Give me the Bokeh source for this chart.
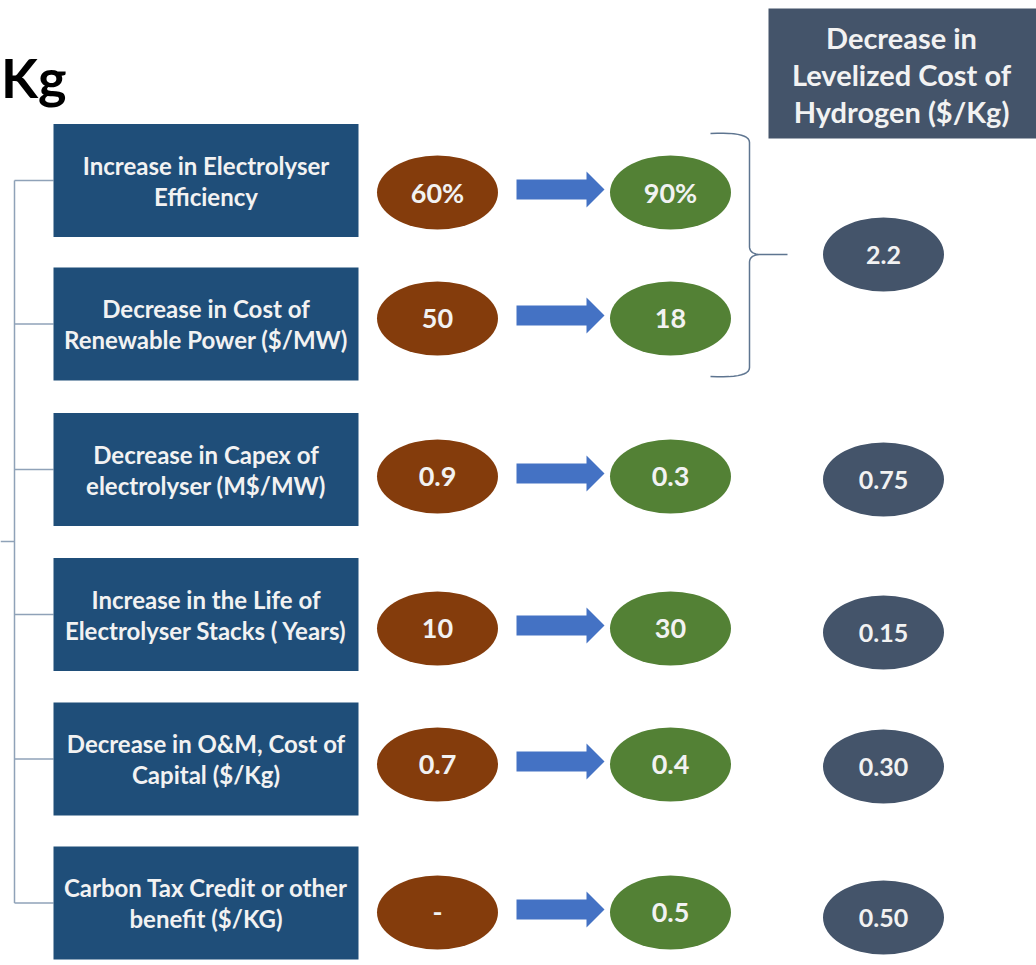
import numpy as np
from bokeh.plotting import figure
from bokeh.models import Range1d
from bokeh.core.properties import value
from bokeh.embed import file_html
from bokeh.resources import INLINE

# ---------------- data ----------------
drivers = [
    "Increase in Electrolyser\nEfficiency",
    "Decrease in Cost of\nRenewable Power ($/MW)",
    "Decrease in Capex of\nelectrolyser (M$/MW)",
    "Increase in the Life of\nElectrolyser Stacks ( Years)",
    "Decrease in O&M, Cost of\nCapital ($/Kg)",
    "Carbon Tax Credit or other\nbenefit ($/KG)",
]
current_values = ["60%", "50", "0.9", "10", "0.7", "-"]
target_values = ["90%", "18", "0.3", "30", "0.4", "0.5"]
# impact on LCOH ($/Kg); first value is shared by rows 0 and 1
impact_values = ["2.2", "0.75", "0.15", "0.30", "0.50"]
impact_rows = [(0, 1), (2,), (3,), (4,), (5,)]
header_lines = ["Decrease in", "Levelized Cost of", "Hydrogen ($/Kg)"]
title_text = "/Kg"

# ---------------- layout ----------------
W, H = 1036, 965
FONT = "Lato"
BOX_BLUE = "#1F4E79"
BROWN = "#843C0C"
GREEN = "#538135"
SLATE = "#44546A"
ARROW = "#4472C4"
LINE_C = "#8FA2B8"
TXT = "#F2F2F2"

box_x0, box_x1 = 53, 358
box_h = 113
box_centers = [180, 323.5, 469, 614, 758.5, 902.5]
ell_centers = [192, 318, 476, 628, 764, 912]
imp_centers = [254, 479, 632, 766, 917]
brown_x, green_x, slate_x = 437, 670, 883
ell_w, ell_h = 121, 74

p = figure(width=W, height=H, x_range=Range1d(0, W), y_range=Range1d(H, 0),
           output_backend="svg", toolbar_location=None, min_border=0,
           outline_line_color=None, background_fill_color="white",
           border_fill_color="white")
p.axis.visible = False
p.grid.visible = False

# left connector tree
trunk_x = 14
p.segment(x0=[trunk_x], y0=[box_centers[0]], x1=[trunk_x], y1=[box_centers[-1]],
          line_color=LINE_C, line_width=1.5)
p.segment(x0=[trunk_x] * len(box_centers), y0=box_centers,
          x1=[box_x0] * len(box_centers), y1=box_centers,
          line_color=LINE_C, line_width=1.5)
p.segment(x0=[0], y0=[541], x1=[trunk_x], y1=[541], line_color=LINE_C, line_width=1.5)

# driver boxes
p.rect(x=[(box_x0 + box_x1) / 2] * len(drivers), y=box_centers,
       width=box_x1 - box_x0, height=box_h, fill_color=BOX_BLUE, line_color=None)

tx, ty, tt = [], [], []
for c, lab in zip(box_centers, drivers):
    lines = lab.split("\n")
    n = len(lines)
    for i, ln in enumerate(lines):
        tx.append((box_x0 + box_x1) / 2)
        ty.append(c + (i - (n - 1) / 2) * 31)
        tt.append(ln)
p.text(x=tx, y=ty, text=tt, text_align="center", text_baseline="middle",
       text_font=value(FONT), text_font_style="bold", text_font_size="24px",
       text_color=TXT)

# current / target ellipses
n = len(current_values)
p.ellipse(x=[brown_x] * n, y=ell_centers, width=ell_w, height=ell_h,
          fill_color=BROWN, line_color=None)
p.ellipse(x=[green_x] * n, y=ell_centers, width=ell_w, height=ell_h,
          fill_color=GREEN, line_color=None)
p.text(x=[brown_x] * n, y=ell_centers, text=current_values, text_align="center",
       text_baseline="middle", text_font=value(FONT), text_font_style="bold",
       text_font_size="27px", text_color=TXT)
p.text(x=[green_x] * n, y=ell_centers, text=target_values, text_align="center",
       text_baseline="middle", text_font=value(FONT), text_font_style="bold",
       text_font_size="27px", text_color=TXT)

# block arrows
xs, ys = [], []
sx0, sx1, tip = 516, 586, 604
sh, hh = 10, 18
for c in ell_centers:
    cy = c - 3
    xs.append([sx0, sx1, sx1, tip, sx1, sx1, sx0])
    ys.append([cy - sh, cy - sh, cy - hh, cy, cy + hh, cy + sh, cy + sh])
p.patches(xs=xs, ys=ys, fill_color=ARROW, line_color=None)

# impact ellipses
m = len(impact_values)
p.ellipse(x=[slate_x] * m, y=imp_centers, width=121, height=74,
          fill_color=SLATE, line_color=None)
p.text(x=[slate_x] * m, y=imp_centers, text=impact_values, text_align="center",
       text_baseline="middle", text_font=value(FONT), text_font_style="bold",
       text_font_size="25px", text_color=TXT)

# header box
hx0, hx1, hy0, hy1 = 768, 1036, 8, 138
p.rect(x=[(hx0 + hx1) / 2], y=[(hy0 + hy1) / 2], width=hx1 - hx0, height=hy1 - hy0,
       fill_color=SLATE, line_color=None)
p.text(x=[901] * 3, y=[37, 74, 111], text=header_lines, text_align="center",
       text_baseline="middle", text_font=value(FONT), text_font_style="bold",
       text_font_size="29px", text_color=TXT)

# curly brace for grouped rows
def quad(p0, c, p1, k=12):
    t = np.linspace(0, 1, k)
    x = (1 - t) ** 2 * p0[0] + 2 * (1 - t) * t * c[0] + t ** 2 * p1[0]
    y = (1 - t) ** 2 * p0[1] + 2 * (1 - t) * t * c[1] + t ** 2 * p1[1]
    return list(x), list(y)

bx_l, bx_v, bx_tip = 710, 749, 787
by_top, by_bot = 133, 376
by_mid = imp_centers[0]
bxs, bys = [], []
for seg in [quad((bx_l, by_top), (bx_v, by_top - 2), (bx_v, by_top + 9)),
            ([bx_v, bx_v], [by_top + 9, by_mid - 8]),
            quad((bx_v, by_mid - 8), (bx_v, by_mid), (bx_v + 12, by_mid)),
            ([bx_v + 12, bx_tip, bx_v + 12], [by_mid, by_mid, by_mid]),
            quad((bx_v + 12, by_mid), (bx_v, by_mid), (bx_v, by_mid + 8)),
            ([bx_v, bx_v], [by_mid + 8, by_bot - 9]),
            quad((bx_v, by_bot - 9), (bx_v, by_bot + 2), (bx_l, by_bot))]:
    bxs += list(seg[0])
    bys += list(seg[1])
p.line(x=bxs, y=bys, line_color="#5E7590", line_width=1.5)

# cut title fragment (the rest of the title lies off the left edge)
p.text(x=[66], y=[77], text=[title_text], text_align="right", text_baseline="alphabetic",
       text_font=value(FONT), text_font_style="bold", text_font_size="54px",
       text_color="#000000")

open("out.html", "w").write(file_html(p, INLINE))
